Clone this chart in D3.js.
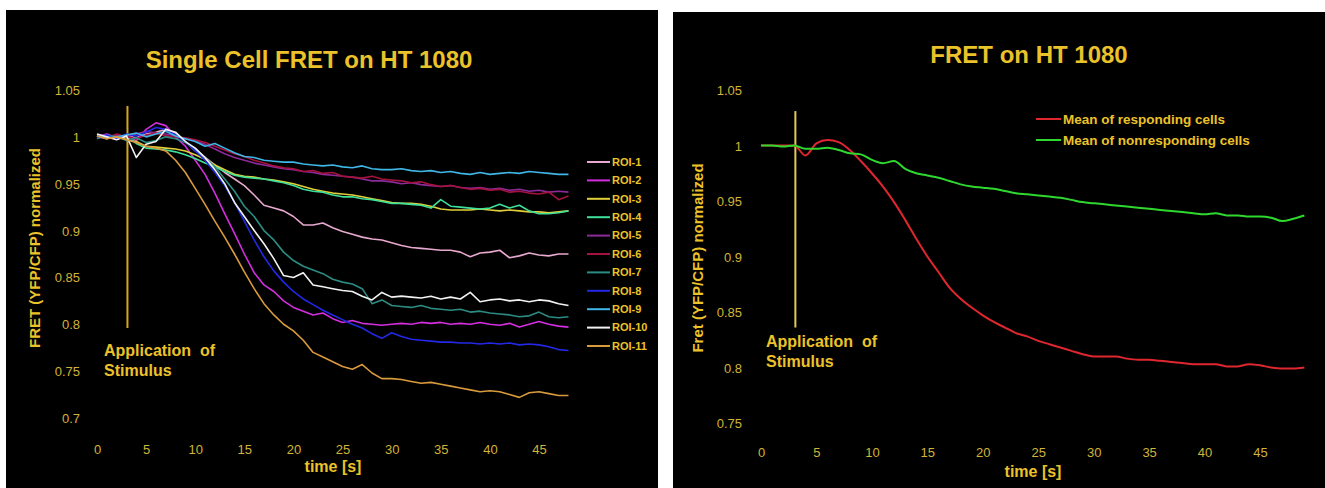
<!DOCTYPE html>
<html>
<head>
<meta charset="utf-8">
<script src="https://cdn.jsdelivr.net/npm/d3@7"></script>
<style>
  body { margin: 0; background: #fff; }
  svg { display: block; }
  text { font-family: "Liberation Sans", Arial, sans-serif; }
</style>
</head>
<body>
<svg id="svg" width="1325" height="488"></svg>
<script>
// ---- data ----
var xTicks = [0, 5, 10, 15, 20, 25, 30, 35, 40, 45];
var yTicksLeft = [0.7, 0.75, 0.8, 0.85, 0.9, 0.95, 1, 1.05];
var yTicksRight = [0.75, 0.8, 0.85, 0.9, 0.95, 1, 1.05];
var stimulusTime = 3.1;

var roiNames = ["ROI-1", "ROI-2", "ROI-3", "ROI-4", "ROI-5", "ROI-6", "ROI-7", "ROI-8", "ROI-9", "ROI-10", "ROI-11"];
var roiColors = ["#e7a9cf", "#d42ee0", "#e0cf3a", "#3fe09a", "#8c2a9a", "#a4123f", "#2c8c84", "#2228e6", "#3fb6e6", "#f2f2f2", "#d99a3c"];

// one value per second, t = 0..48
var roi1 = [1.002, 1.000, 0.998, 1.001, 0.999, 1.003, 1.005, 1.008, 1.004, 0.995,
            0.985, 0.978, 0.970, 0.962, 0.955, 0.948, 0.938, 0.927, 0.924, 0.921,
            0.915, 0.906, 0.906, 0.908, 0.903, 0.899, 0.896, 0.893, 0.891, 0.890,
            0.887, 0.884, 0.882, 0.881, 0.880, 0.879, 0.879, 0.877, 0.872, 0.876,
            0.877, 0.879, 0.871, 0.873, 0.876, 0.874, 0.873, 0.875, 0.875];
var roi2 = [1.000, 1.003, 0.999, 1.001, 0.996, 1.008, 1.015, 1.012, 1.000, 0.990,
            0.975, 0.960, 0.940, 0.918, 0.897, 0.875, 0.855, 0.842, 0.835, 0.825,
            0.818, 0.814, 0.810, 0.812, 0.806, 0.802, 0.804, 0.801, 0.800, 0.799,
            0.800, 0.801, 0.800, 0.802, 0.801, 0.802, 0.800, 0.801, 0.800, 0.802,
            0.800, 0.799, 0.801, 0.797, 0.800, 0.803, 0.800, 0.798, 0.797];
var roi3 = [1.001, 0.998, 1.002, 0.997, 0.995, 0.990, 0.989, 0.988, 0.987, 0.985,
            0.981, 0.976, 0.970, 0.965, 0.960, 0.958, 0.957, 0.955, 0.954, 0.952,
            0.950, 0.947, 0.944, 0.942, 0.940, 0.939, 0.938, 0.936, 0.934, 0.932,
            0.930, 0.929, 0.929, 0.928, 0.926, 0.923, 0.922, 0.922, 0.922, 0.923,
            0.922, 0.921, 0.922, 0.921, 0.920, 0.920, 0.919, 0.920, 0.921];
var roi4 = [0.999, 1.001, 0.998, 1.000, 0.993, 0.988, 0.987, 0.986, 0.984, 0.981,
            0.977, 0.972, 0.968, 0.963, 0.959, 0.957, 0.956, 0.955, 0.953, 0.951,
            0.948, 0.944, 0.942, 0.941, 0.938, 0.936, 0.936, 0.934, 0.933, 0.931,
            0.929, 0.929, 0.928, 0.927, 0.924, 0.933, 0.926, 0.925, 0.924, 0.923,
            0.924, 0.928, 0.924, 0.927, 0.921, 0.918, 0.918, 0.919, 0.921];
var roi5 = [1.000, 0.998, 1.002, 1.000, 1.003, 1.006, 1.004, 1.003, 1.001, 0.998,
            0.996, 0.992, 0.987, 0.982, 0.978, 0.975, 0.972, 0.970, 0.968, 0.966,
            0.965, 0.963, 0.962, 0.960, 0.959, 0.958, 0.957, 0.955, 0.953, 0.953,
            0.952, 0.950, 0.951, 0.949, 0.948, 0.947, 0.948, 0.946, 0.945, 0.946,
            0.944, 0.945, 0.943, 0.944, 0.942, 0.943, 0.941, 0.942, 0.941];
var roi6 = [1.001, 0.999, 1.003, 1.000, 0.998, 1.002, 1.004, 1.001, 1.000, 0.999,
            0.997, 0.994, 0.990, 0.986, 0.982, 0.979, 0.975, 0.972, 0.969, 0.967,
            0.966, 0.963, 0.964, 0.961, 0.962, 0.958, 0.957, 0.956, 0.958, 0.955,
            0.954, 0.953, 0.951, 0.952, 0.949, 0.947, 0.948, 0.946, 0.944, 0.945,
            0.943, 0.944, 0.941, 0.942, 0.940, 0.939, 0.941, 0.933, 0.937];
var roi7 = [0.998, 1.002, 1.000, 0.996, 0.999, 0.994, 0.996, 1.000, 0.998, 0.994,
            0.987, 0.978, 0.968, 0.955, 0.942, 0.926, 0.915, 0.900, 0.890, 0.877,
            0.868, 0.862, 0.858, 0.854, 0.848, 0.845, 0.843, 0.838, 0.822, 0.826,
            0.820, 0.819, 0.818, 0.820, 0.817, 0.816, 0.815, 0.816, 0.813, 0.814,
            0.812, 0.811, 0.810, 0.808, 0.809, 0.813, 0.808, 0.807, 0.808];
var roi8 = [1.000, 1.002, 0.998, 1.003, 1.001, 1.005, 1.010, 1.008, 1.002, 0.995,
            0.985, 0.975, 0.962, 0.948, 0.930, 0.910, 0.890, 0.872, 0.857, 0.845,
            0.835, 0.827, 0.821, 0.815, 0.810, 0.805, 0.800, 0.796, 0.790, 0.785,
            0.791, 0.787, 0.784, 0.783, 0.782, 0.781, 0.781, 0.780, 0.780, 0.779,
            0.780, 0.779, 0.780, 0.778, 0.779, 0.778, 0.776, 0.773, 0.772];
var roi9 = [1.001, 0.999, 1.000, 1.002, 1.004, 1.000, 1.003, 1.006, 1.001, 0.998,
            0.995, 0.990, 0.993, 0.988, 0.983, 0.979, 0.978, 0.975, 0.974, 0.973,
            0.973, 0.971, 0.970, 0.969, 0.970, 0.968, 0.967, 0.969, 0.966, 0.965,
            0.965, 0.966, 0.964, 0.963, 0.964, 0.962, 0.963, 0.961, 0.960, 0.962,
            0.960, 0.961, 0.962, 0.961, 0.963, 0.962, 0.961, 0.960, 0.960];
var roi10 = [1.003, 1.000, 0.997, 1.001, 0.978, 0.992, 0.995, 1.008, 1.005, 0.995,
             0.988, 0.978, 0.965, 0.950, 0.930, 0.915, 0.900, 0.886, 0.870, 0.852,
             0.850, 0.855, 0.842, 0.840, 0.838, 0.836, 0.835, 0.830, 0.826, 0.834,
             0.829, 0.830, 0.829, 0.828, 0.830, 0.827, 0.829, 0.827, 0.834, 0.824,
             0.826, 0.827, 0.825, 0.826, 0.824, 0.826, 0.825, 0.822, 0.820];
var roi11 = [1.001, 0.998, 1.000, 0.997, 0.994, 0.990, 0.988, 0.985, 0.975, 0.962,
             0.945, 0.928, 0.910, 0.893, 0.875, 0.856, 0.838, 0.822, 0.810, 0.800,
             0.793, 0.783, 0.770, 0.765, 0.760, 0.755, 0.752, 0.757, 0.748, 0.742,
             0.742, 0.741, 0.739, 0.737, 0.738, 0.736, 0.734, 0.732, 0.730, 0.728,
             0.729, 0.728, 0.725, 0.722, 0.727, 0.728, 0.726, 0.724, 0.724];

var meanNames = ["Mean of responding cells", "Mean of nonresponding cells"];
var meanColors = ["#e0262e", "#2ed82e"];
// t = 0..49
var meanResponding = [1.000, 1.000, 1.000, 1.000, 0.991, 1.002, 1.005, 1.003, 0.996, 0.986,
                      0.975, 0.963, 0.949, 0.933, 0.916, 0.900, 0.886, 0.872, 0.862, 0.854,
                      0.847, 0.841, 0.836, 0.831, 0.828, 0.824, 0.821, 0.818, 0.815, 0.812,
                      0.810, 0.810, 0.810, 0.808, 0.807, 0.807, 0.806, 0.805, 0.804, 0.803,
                      0.803, 0.803, 0.801, 0.801, 0.803, 0.802, 0.800, 0.799, 0.799, 0.800];
var meanNonresponding = [1.000, 1.000, 0.999, 1.000, 0.997, 0.997, 0.998, 0.996, 0.993, 0.992,
                         0.987, 0.984, 0.986, 0.979, 0.975, 0.973, 0.971, 0.968, 0.965, 0.963,
                         0.962, 0.961, 0.959, 0.957, 0.956, 0.955, 0.954, 0.953, 0.951, 0.949,
                         0.948, 0.947, 0.946, 0.945, 0.944, 0.943, 0.942, 0.941, 0.940, 0.939,
                         0.938, 0.939, 0.937, 0.937, 0.936, 0.936, 0.935, 0.932, 0.934, 0.937];

var roiSeries = [roi1, roi2, roi3, roi4, roi5, roi6, roi7, roi8, roi9, roi10, roi11];
var meanSeries = [meanResponding, meanNonresponding];

var gold = "#ecc22a";
var tickGold = "#d2b436";

var svg = d3.select("#svg");

// black panels
svg.append("rect").attr("x", 6).attr("y", 10).attr("width", 652).attr("height", 478).attr("fill", "#000");
svg.append("rect").attr("x", 673).attr("y", 12).attr("width", 652).attr("height", 476).attr("fill", "#000");

function drawPanel(opt) {
    var g = svg.append("g");
    var x = d3.scaleLinear().domain([0, 45]).range(opt.xRange);
    var y = d3.scaleLinear().domain(opt.yDomain).range(opt.yRange);

    // axes: labels only, no domain lines or tick marks
    var xAxis = g.append("g")
        .attr("transform", "translate(0," + opt.xAxisY + ")")
        .call(d3.axisBottom(x).tickValues(xTicks).tickSize(0).tickPadding(0).tickFormat(d3.format("d")));
    var yAxis = g.append("g")
        .attr("transform", "translate(" + opt.yAxisX + ",0)")
        .call(d3.axisLeft(y).tickValues(opt.yTicks).tickSize(0).tickPadding(0).tickFormat(function(d) { return String(+d.toFixed(2)); }));
    [xAxis, yAxis].forEach(function(a) {
        a.select(".domain").remove();
        a.selectAll("text")
            .attr("fill", tickGold)
            .style("font-size", "13px")
            .style("font-family", "'Liberation Sans', Arial, sans-serif");
    });
    yAxis.selectAll("text").attr("dy", "0.35em");

    // stimulus marker
    g.append("line")
        .attr("x1", x(stimulusTime)).attr("x2", x(stimulusTime))
        .attr("y1", y(opt.stimTop)).attr("y2", y(opt.stimBottom))
        .attr("stroke", opt.stimColor).attr("stroke-width", 2);

    var line = d3.line()
        .x(function(d, i) { return x(i); })
        .y(function(d) { return y(d); })
        .curve(opt.curve);

    opt.series.forEach(function(s, i) {
        g.append("path")
            .attr("d", line(s))
            .attr("fill", "none")
            .attr("stroke", opt.colors[i])
            .attr("stroke-width", opt.lineWidth)
            .attr("stroke-linejoin", "round");
    });

    // texts
    g.append("text").attr("x", opt.titleX).attr("y", opt.titleY)
        .attr("text-anchor", "middle").attr("fill", gold)
        .style("font-size", "24px").style("font-weight", "bold").text(opt.title);
    g.append("text").attr("x", opt.xLabelX).attr("y", opt.xLabelY)
        .attr("text-anchor", "middle").attr("fill", gold)
        .style("font-size", "16px").style("font-weight", "bold").text("time [s]");
    g.append("text")
        .attr("transform", "translate(" + opt.yLabelX + "," + opt.yLabelY + ") rotate(-90)")
        .attr("text-anchor", "middle").attr("fill", gold)
        .style("font-size", "15px").style("font-weight", "bold").text(opt.yLabel);

    var stim = g.append("text").attr("fill", gold)
        .style("font-size", "16px").style("font-weight", "bold");
    stim.append("tspan").attr("x", opt.stimTextX).attr("y", opt.stimTextY).attr("xml:space", "preserve").text("Application  of");
    stim.append("tspan").attr("x", opt.stimTextX).attr("y", opt.stimTextY + 20).text("Stimulus");

    // legend
    var leg = g.selectAll(".leg").data(opt.names).enter().append("g")
        .attr("transform", function(d, i) { return "translate(" + opt.legX + "," + (opt.legY + i * opt.legStep) + ")"; });
    leg.append("line").attr("x1", 0).attr("x2", opt.legLine).attr("y1", 0).attr("y2", 0)
        .attr("stroke", function(d, i) { return opt.colors[i]; }).attr("stroke-width", 2);
    leg.append("text").attr("x", opt.legLine + 2).attr("dy", "0.35em")
        .attr("fill", gold).style("font-size", opt.legFont).style("font-weight", "bold")
        .text(function(d) { return d; });
}

drawPanel({
    xRange: [97, 539], yDomain: [0.7, 1.05], yRange: [418, 90],
    yTicks: yTicksLeft, xAxisY: 445, yAxisX: 80,
    stimTop: 1.033, stimBottom: 0.796, stimColor: "#d9a520",
    series: roiSeries, colors: roiColors, curve: d3.curveLinear, lineWidth: 1.6,
    title: "Single Cell FRET on HT 1080", titleX: 309, titleY: 68,
    xLabelX: 333, xLabelY: 472,
    yLabel: "FRET (YFP/CFP) normalized", yLabelX: 40, yLabelY: 248,
    stimTextX: 104, stimTextY: 356,
    names: roiNames, legX: 587, legY: 162, legStep: 18.4, legLine: 23, legFont: "11px"
});

drawPanel({
    xRange: [761, 1260], yDomain: [0.75, 1.05], yRange: [423, 90],
    yTicks: yTicksRight, xAxisY: 448, yAxisX: 742,
    stimTop: 1.031, stimBottom: 0.836, stimColor: "#e4c85a",
    series: meanSeries, colors: meanColors, curve: d3.curveMonotoneX, lineWidth: 2,
    title: "FRET on HT 1080", titleX: 1029, titleY: 63,
    xLabelX: 1033, xLabelY: 477,
    yLabel: "Fret (YFP/CFP) normalized", yLabelX: 703, yLabelY: 258,
    stimTextX: 766, stimTextY: 347,
    names: meanNames, legX: 1036, legY: 119, legStep: 21, legLine: 25, legFont: "13.5px"
});
</script>
</body>
</html>
